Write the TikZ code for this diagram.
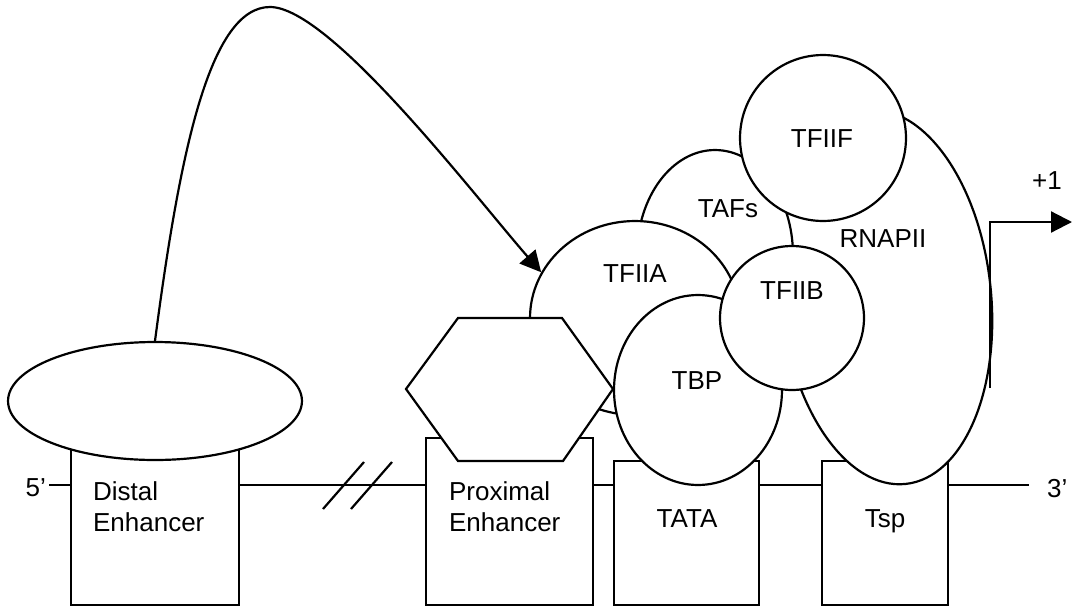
\documentclass[tikz,border=0pt]{standalone}
\usepackage{fontspec}
\setmainfont{Liberation Sans}
\usetikzlibrary{shapes.geometric,arrows.meta}
\tikzset{
  blob/.style={draw, fill=white, ellipse, inner sep=0pt},
  ball/.style={draw, fill=white, circle, inner sep=0pt},
  site/.style={draw, fill=white, rectangle, inner sep=0pt},
  lbl/.style={font=\fontsize{14.8}{17.5}\selectfont, inner sep=0pt},
  tip/.style={-{Triangle[length=0.42cm,width=0.42cm]}}
}
\begin{document}
\begin{tikzpicture}[x=0.02cm, y=-0.02cm, line width=1.25pt]
\useasboundingbox (0,0) rectangle (1089,609);
\coordinate (dnastart) at (49,485);
\coordinate (dnaend) at (1029,485);
\node[lbl, anchor=base east] (fivep) at (47,496) {5'};
\node[lbl, anchor=base west] (threep) at (1046,497) {3'};
\draw (dnastart) -- (dnaend);
\foreach \x in {323,351}
	\draw (\x,509) -- (\x+41,462);
\node[site, minimum width=3.36cm, minimum height=3.34cm] (distal) at (155,521.5) {};
\node[site, minimum width=3.34cm, minimum height=3.34cm] (proximal) at (509.5,521.5) {};
\node[site, minimum width=2.9cm, minimum height=2.88cm] (tata) at (686.5,533) {};
\node[site, minimum width=2.52cm, minimum height=2.88cm] (tsp) at (885,533) {};
\node[lbl, anchor=west, align=left] (distaltext) at (92,507) {Distal\\Enhancer};
\node[lbl, anchor=west, align=left] (proximaltext) at (448,507) {Proximal\\Enhancer};
\node[lbl, anchor=base] (tatatext) at (687,527) {TATA};
\node[lbl, anchor=base] (tsptext) at (885,527) {Tsp};
\node[blob, minimum width=5.88cm, minimum height=2.36cm] (act) at (155,401) {};
\node[blob, rotate=6, minimum width=4.2cm, minimum height=7.52cm] (rnapii) at (886,297) {};
\node[blob, minimum width=3.12cm, minimum height=4.2cm] (tafs) at (715,255) {};
\node[ball, minimum size=3.32cm] (tfiif) at (823,138) {};
\node[blob, minimum width=4.2cm, minimum height=3.88cm] (tfiia) at (635,318) {};
\filldraw[fill=white] (406,389) -- (458,318) -- (562,318) -- (613,389) -- (563,461) -- (458,461) -- cycle;
\node[blob, minimum width=3.36cm, minimum height=3.8cm] (tbp) at (698,390) {};
\node[ball, minimum size=2.88cm] (tfiib) at (792,318) {};
\node[lbl, anchor=base] (tfiiftext) at (822,147) {TFIIF};
\node[lbl, anchor=base] (tafstext) at (728,217) {TAFs};
\node[lbl, anchor=base] (rnapiitext) at (883,247) {RNAPII};
\node[lbl, anchor=base] (tfiiatext) at (635,282) {TFIIA};
\node[lbl, anchor=base] (tfiibtext) at (792,299) {TFIIB};
\node[lbl, anchor=base] (tbptext) at (697,389) {TBP};
\coordinate (tss) at (990,388);
\coordinate (tssend) at (1072,222);
\draw[tip] (tss) |- (tssend);
\node[lbl, anchor=base] (plusone) at (1047,189) {+1};
\draw[tip] (act.north) .. controls (180,150) and (210,7) .. (270,7) .. controls (330,7) and (473,194) .. (tfiia.154);
\end{tikzpicture}
\end{document}
